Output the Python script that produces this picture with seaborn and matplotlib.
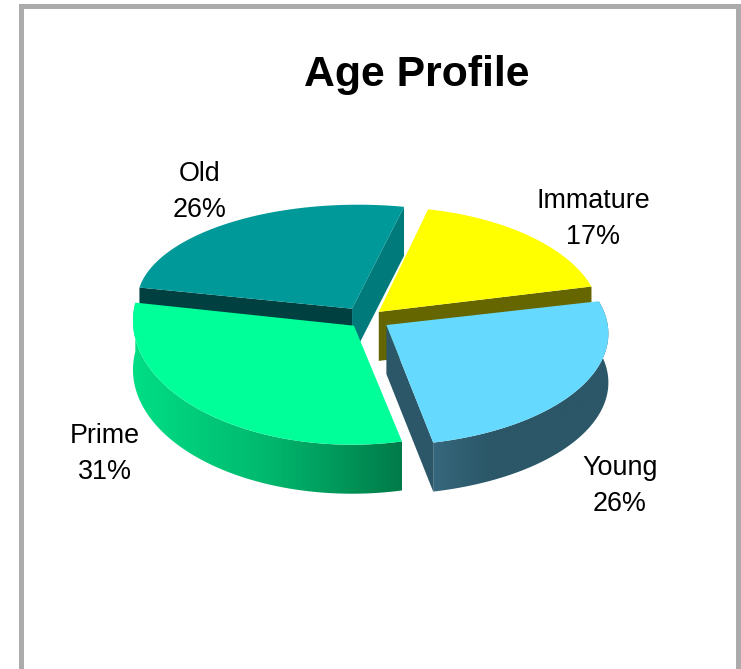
import numpy as np
import matplotlib
matplotlib.use('Agg')
import matplotlib.pyplot as plt
from matplotlib.patches import Polygon, Rectangle
import seaborn as sns

# data
age_groups = ['Immature', 'Young', 'Prime', 'Old']
shares = [17, 26, 31, 26]

# colours
top_colors = ['#FFFF00', '#66D9FF', '#00FF99', '#009999']
low_face = ['#666600', '#2B5768', None, '#007A7A']
high_face = [None, None, None, '#004040']
rim_colors = [None, ['#36677C', '#2B5768', '#2B5768', '#2B5768'], ['#00DE85', '#00B86E', '#007A49'], None]

# pie geometry, in pixels of the 741x669 picture
W, H = 741, 669
cx, cy = 366, 319
unit_x, unit_y = 222, 114
explode = [0.085, 0.106, 0.08, 0.11]
# perspective: each arc is its own ellipse, a bit off from the slice tip
arc_dx = [4, -5, -2, 6]
arc_dy = [7, 8.5, -5, -7]
arc_rx = [218, 227, 219, 221]
arc_ry = [112, 112, 124, 97]
depth = 49

label_pos = [(593, 219), (620, 486), (105, 454), (200, 192)]

sns.set_theme(style='white')
plt.rcParams['font.family'] = ['Liberation Sans', 'DejaVu Sans']

fig = plt.figure(figsize=(W / 100, H / 100), dpi=100, facecolor='white')
ax = fig.add_axes([0, 0, 1, 1])

wedges, _ = ax.pie(shares, explode=explode, startangle=78, counterclock=False, radius=1)
ax.set_aspect('auto')
ax.set_xlim(-cx / unit_x, (W - cx) / unit_x)
ax.set_ylim(-(H - cy) / unit_y, cy / unit_y)
xlim, ylim = ax.get_xlim(), ax.get_ylim()
dz = depth / unit_y


def sweep(a, b):
    # a, b are the two ends of a straight top edge
    return [a, b, (b[0], b[1] - dz), (a[0], a[1] - dz)]


draw_order = [3, 0, 2, 1]
for i in draw_order:
    w = wedges[i]
    w.set_visible(False)
    tip = np.array(w.center)
    t = np.radians(np.linspace(w.theta1, w.theta2, 160))
    arc_x = tip[0] + arc_dx[i] / unit_x + np.cos(t) * arc_rx[i] / unit_x
    arc_y = tip[1] - arc_dy[i] / unit_y + np.sin(t) * arc_ry[i] / unit_y
    arc = np.column_stack([arc_x, arc_y])
    z = 2 + 3 * draw_order.index(i)

    # curved outer side
    if rim_colors[i] is not None:
        rim = np.vstack([arc, (arc - [0, dz])[::-1]])
        clip = Polygon(rim, closed=True, transform=ax.transData, facecolor='none', edgecolor='none')
        ax.add_patch(clip)
        cmap = sns.blend_palette(rim_colors[i], as_cmap=True)
        im = ax.imshow(np.linspace(0, 1, 256)[None, :], cmap=cmap, aspect='auto', zorder=z,
                       extent=[rim[:, 0].min(), rim[:, 0].max(), rim[:, 1].min(), rim[:, 1].max()])
        im.set_clip_path(clip)

    # flat cut faces
    if low_face[i] is not None:
        ax.add_patch(Polygon(sweep(tip, arc[0]), closed=True, facecolor=low_face[i], edgecolor='none', zorder=z))
    if high_face[i] is not None:
        ax.add_patch(Polygon(sweep(tip, arc[-1]), closed=True, facecolor=high_face[i], edgecolor='none', zorder=z))

    # top surface
    ax.add_patch(Polygon(np.vstack([tip, arc]), closed=True, facecolor=top_colors[i], edgecolor='none', zorder=z + 1))

ax.set_xlim(xlim)
ax.set_ylim(ylim)
ax.axis('off')

for name, share, (px, py) in zip(age_groups, shares, label_pos):
    fig.text(px / W, 1 - py / H, f'{name}\n{share}%', fontsize=19.4, ha='center', va='center',
             linespacing=1.47, color='black')

fig.text(417 / W, 1 - 75 / H, 'Age Profile', fontsize=30.8, fontweight='bold', ha='center', va='center', color='black')

# grey frame, open at the bottom
frame = '#ABABAB'
for x0, y0, x1, y1 in [(19, 4, 741, 9), (19, 4, 24, 669), (736, 4, 741, 669)]:
    fig.add_artist(Rectangle((x0 / W, 1 - y1 / H), (x1 - x0) / W, (y1 - y0) / H, transform=fig.transFigure,
                             facecolor=frame, edgecolor='none'))

fig.savefig('out.png', dpi=100)
